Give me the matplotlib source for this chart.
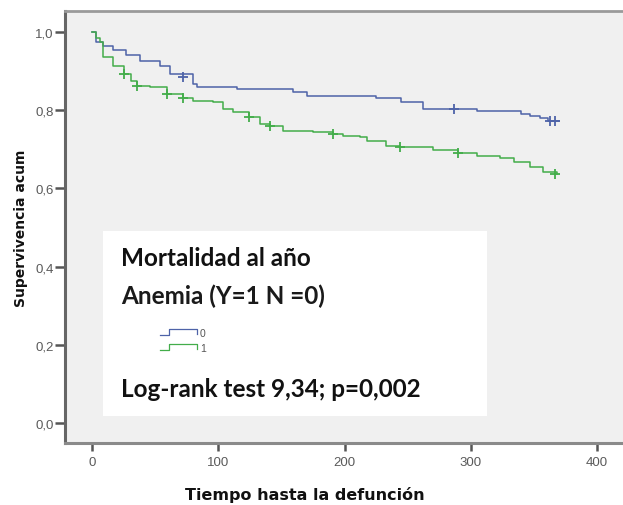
import matplotlib
matplotlib.use("Agg")
import matplotlib.pyplot as plt
from matplotlib.lines import Line2D
from matplotlib.patches import Rectangle

# ---- data ----
t0 = [0, 3, 9, 17, 27, 38, 54, 62, 80, 83, 115, 159, 170, 225, 245, 262, 305, 340, 347, 355, 361, 370]
s0 = [1.0, 0.975, 0.965, 0.955, 0.94, 0.926, 0.913, 0.893, 0.867, 0.86, 0.854, 0.846, 0.836, 0.83, 0.822, 0.803, 0.798, 0.79, 0.784, 0.78, 0.773, 0.773]
c0_t = [72, 287, 363, 367]
c0_s = [0.885, 0.803, 0.773, 0.773]

t1 = [0, 3, 6, 9, 17, 25, 31, 36, 46, 59, 72, 80, 96, 104, 112, 124, 133, 141, 151, 175, 191, 199, 212, 218, 233, 244, 270, 290, 305, 323, 334, 347, 357, 368]
s1 = [1.0, 0.985, 0.974, 0.936, 0.913, 0.893, 0.875, 0.862, 0.859, 0.841, 0.831, 0.824, 0.82, 0.803, 0.795, 0.782, 0.765, 0.76, 0.747, 0.744, 0.739, 0.734, 0.731, 0.722, 0.708, 0.705, 0.699, 0.691, 0.684, 0.677, 0.667, 0.654, 0.643, 0.637]
c1_t = [25, 36, 59, 72, 124, 141, 191, 244, 290, 367]
c1_s = [0.893, 0.862, 0.841, 0.831, 0.782, 0.76, 0.739, 0.705, 0.691, 0.637]

xticks = [0, 100, 200, 300, 400]
yticks = [0.0, 0.2, 0.4, 0.6, 0.8, 1.0]
ytick_labels = ["0,0", "0,2", "0,4", "0,6", "0,8", "1,0"]
group_labels = ["0", "1"]

title1 = "Mortalidad al año"
title2 = "Anemia (Y=1 N =0)"
stat_text = "Log-rank test 9,34; p=0,002"
xlabel = "Tiempo hasta la defunción"
ylabel = "Supervivencia acum"

BLUE = "#4e63a8"
GREEN = "#43ad4a"

W, H = 623, 506
fig = plt.figure(figsize=(W / 100, H / 100), dpi=100)
fig.patch.set_facecolor("white")

def fx(px):
    return px / W

def fy(py):
    return 1 - py / H

ax = fig.add_axes([fx(65), fy(444), 1 - fx(65), fy(12) - fy(444)])
ax.set_facecolor("#f0f0f0")
ax.set_xlim(-21.4, 420.6)
ax.set_ylim(-0.0512, 1.0537)

ax.step(t0, s0, where="post", color=BLUE, lw=1.1)
ax.step(t1, s1, where="post", color=GREEN, lw=1.1)
ax.plot(c0_t, c0_s, ls="none", marker="+", color=BLUE, ms=7, mew=1.3)
ax.plot(c1_t, c1_s, ls="none", marker="+", color=GREEN, ms=7, mew=1.3)

ax.set_xticks(xticks)
ax.set_xticklabels([str(v) for v in xticks])
ax.set_yticks(yticks)
ax.set_yticklabels(ytick_labels)
for lab in ax.get_xticklabels() + ax.get_yticklabels():
    lab.set_family("Liberation Sans")
    lab.set_fontsize(9.5)
    lab.set_color("#5a5a5a")
ax.tick_params(axis="y", direction="out", length=7, width=1.8, color="#555555", pad=1)
ax.tick_params(axis="x", direction="out", length=6, width=1.8, color="#555555", pad=3)

ax.spines["right"].set_visible(False)
ax.spines["left"].set_color("#666666")
ax.spines["left"].set_linewidth(2.2)
ax.spines["top"].set_color("#9a9a9a")
ax.spines["top"].set_linewidth(2.0)
ax.spines["bottom"].set_color("#8a8a8a")
ax.spines["bottom"].set_linewidth(2.2)

# white annotation box
fig.add_artist(Rectangle((fx(103), fy(417)), fx(487) - fx(103), fy(232) - fy(417),
                         transform=fig.transFigure, facecolor="white", edgecolor="none", zorder=3))

fig.text(fx(121), fy(258), title1, fontsize=17.5, fontweight="bold", family="Lato",
         ha="left", va="center", color="#111111", zorder=4)
fig.text(fx(121), fy(296), title2, fontsize=17.5, fontweight="bold", family="Lato",
         ha="left", va="center", color="#1a1a1a", zorder=4)
fig.text(fx(121), fy(390), stat_text, fontsize=17.5, fontweight="bold", family="Lato",
         ha="left", va="center", color="#111111", zorder=4)

# legend icons
for py, col, lab in [(334, BLUE, group_labels[0]), (349, GREEN, group_labels[1])]:
    xs = [fx(160), fx(169), fx(169), fx(197), fx(197)]
    ys = [fy(py + 2), fy(py + 2), fy(py - 4), fy(py - 4), fy(py + 1)]
    fig.add_artist(Line2D(xs, ys, transform=fig.transFigure, color=col, lw=0.9, zorder=4))
    fig.text(fx(200), fy(py), lab, fontsize=7.5, family="Liberation Sans", color="#555555",
             ha="left", va="center", zorder=4)

fig.text(fx(305), fy(495), xlabel, fontsize=11.5, fontweight="bold", family="DejaVu Sans",
         ha="center", va="center", color="#111111")
fig.text(fx(21), fy(228), ylabel, fontsize=10, fontweight="bold", family="DejaVu Sans",
         ha="center", va="center", rotation=90, color="#111111")

fig.savefig("out.png", dpi=100)
